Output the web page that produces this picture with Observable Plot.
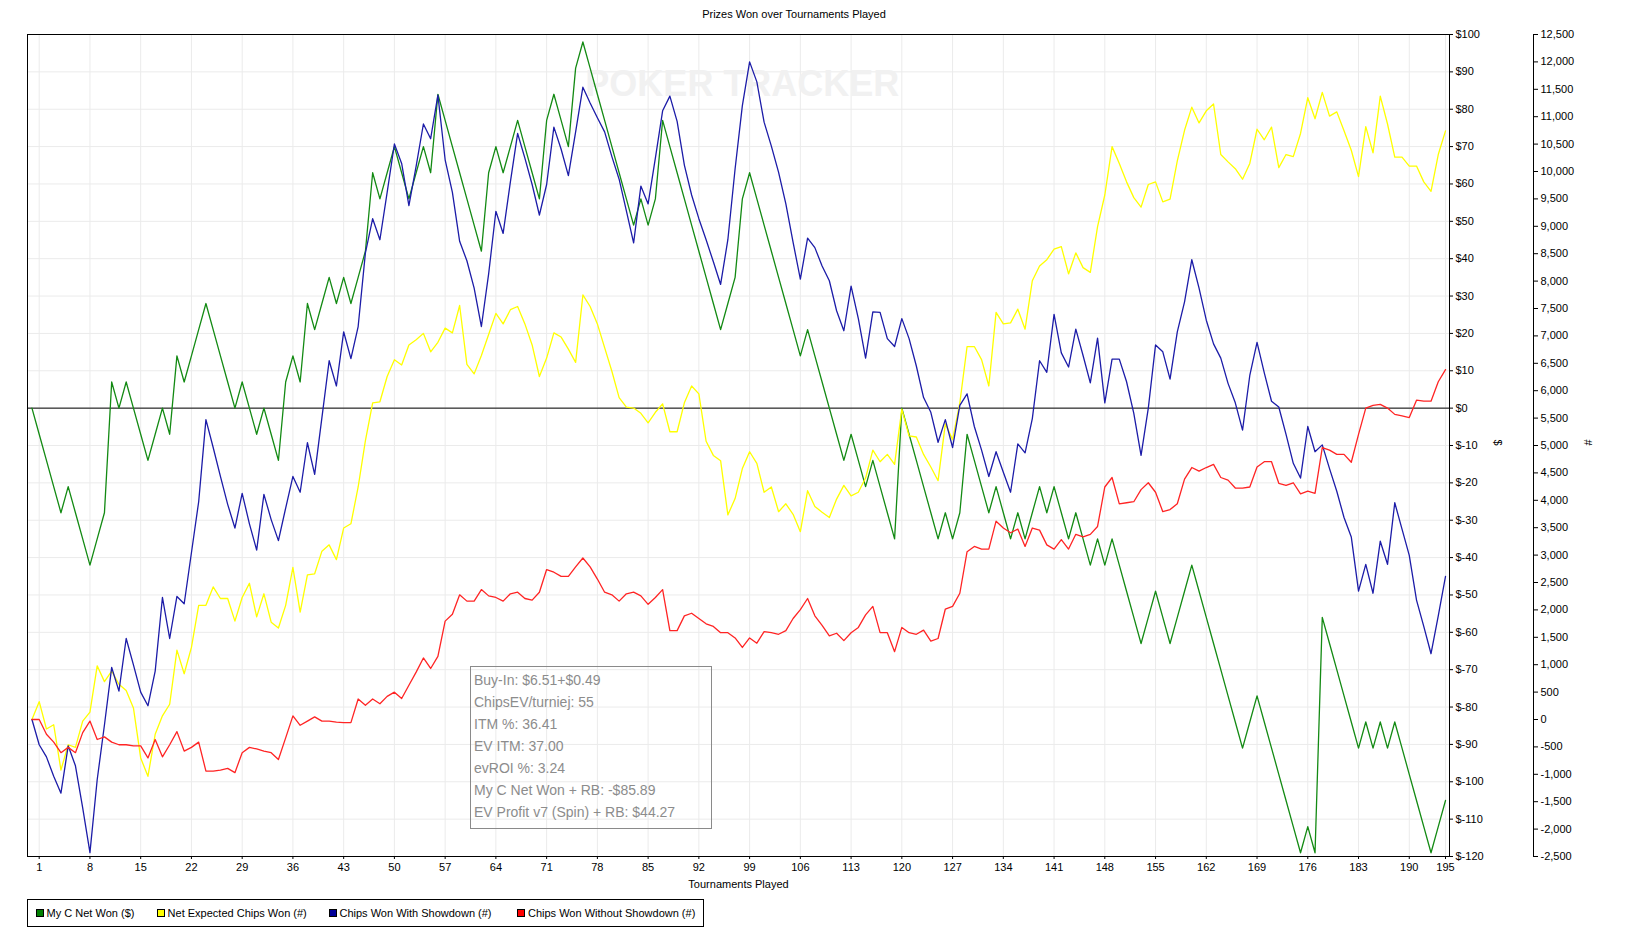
<!DOCTYPE html>
<html>
<head>
<meta charset="utf-8">
<script src="https://cdn.jsdelivr.net/npm/d3@7"></script>
<script src="https://cdn.jsdelivr.net/npm/@observablehq/plot@0.6"></script>
<style>
  html, body { margin: 0; padding: 0; background: #fff; }
  body { width: 1637px; height: 949px; position: relative; overflow: hidden; font-family: "Liberation Sans", Arial, sans-serif; }
  #title { position: absolute; left: 594px; width: 400px; top: 7px; line-height: 14px; font-size: 11px; text-align: center; color: #000; }
  #chart { position: absolute; left: 0; top: 0; }
  #info { position: absolute; left: 470px; top: 666px; width: 242px; height: 163px; box-sizing: border-box; border: 1px solid #8a8a8a; padding: 2px 0 0 3px; font-size: 14px; line-height: 22px; color: #8c8c8c; white-space: nowrap; }
  #legend { position: absolute; left: 27px; top: 899px; width: 677px; height: 28px; box-sizing: border-box; border: 1px solid #000; font-size: 11px; }
  .item { position: absolute; top: 0; height: 26px; line-height: 26px; white-space: nowrap; }
  .sw { position: absolute; top: 9px; left: 0; width: 6px; height: 6px; border: 1px solid #000; }
  .lab { position: absolute; left: 11px; top: 0; }
</style>
</head>
<body>
<div id="title"></div>
<div id="chart"></div>
<div id="info"></div>
<div id="legend"></div>
<script>
// ---------- data ----------
const titleText = "Prizes Won over Tournaments Played";
const xLabel = "Tournaments Played";
const seriesNames = ["My C Net Won ($)", "Net Expected Chips Won (#)", "Chips Won With Showdown (#)", "Chips Won Without Showdown (#)"];
const seriesColors = ["#138a13", "#ffff00", "#1c1ca8", "#ff2424"];
const legendSwatch = ["#008000", "#ffff00", "#000099", "#ff0000"];

// My C Net Won, dollars, tournaments 0..195
const netWonUsd = [
  0,-7,-14,-21,-28,-21,-28,-35,-42,-35,
  -28,7,0,7,0,-7,-14,-7,0,-7,
  14,7,14,21,28,21,14,7,0,7,
  0,-7,0,-7,-14,7,14,7,28,21,
  28,35,28,35,28,35,42,63,56,63,
  70,63,56,63,70,63,84,77,70,63,
  56,49,42,63,70,63,70,77,70,63,
  56,77,84,77,70,91,98,91,84,77,
  70,63,56,49,56,49,56,77,70,63,
  56,49,42,35,28,21,28,35,56,63,
  56,49,42,35,28,21,14,21,14,7,
  0,-7,-14,-7,-14,-21,-14,-21,-28,-35,
  0,-7,-14,-21,-28,-35,-28,-35,-28,-7,
  -14,-21,-28,-21,-28,-35,-28,-35,-28,-21,
  -28,-21,-28,-35,-28,-35,-42,-35,-42,-35,
  -42,-49,-56,-63,-56,-49,-56,-63,-56,-49,
  -42,-49,-56,-63,-70,-77,-84,-91,-84,-77,
  -84,-91,-98,-105,-112,-119,-112,-119,-56,-63,
  -70,-77,-84,-91,-84,-91,-84,-91,-84,-91,
  -98,-105,-112,-119,-112,-105
];

// Net Expected Chips Won, chips
const netExpectedChips = [
  0,326,-173,-96,-922,-461,-509,-29,134,979,
  691,883,643,528,211,-701,-1037,-269,67,278,
  1267,835,1315,2083,2083,2419,2208,2208,1795,2227,
  2486,1872,2294,1776,1670,2083,2774,1958,2640,2659,
  3072,3187,2918,3494,3571,4243,5088,5779,5798,6259,
  6566,6470,6835,6931,7046,6710,6883,7142,7056,7555,
  6480,6307,6643,7027,7411,7219,7478,7536,7219,6835,
  6259,6595,7056,6979,6758,6518,7747,7536,7219,6787,
  6355,5875,5702,5683,5587,5414,5606,5760,5251,5251,
  5779,6086,5942,5078,4819,4723,3734,4032,4579,4886,
  4675,4147,4243,3792,3936,3744,3427,4176,3888,3782,
  3686,4022,4272,4080,4147,4406,4915,4704,4838,4656,
  5664,5174,5155,4838,4608,4358,5395,5107,5779,6806,
  6806,6566,6086,7430,7219,7238,7488,7123,8006,8275,
  8390,8582,8630,8131,8515,8246,8160,8995,9571,10454,
  10147,9811,9523,9350,9763,9811,9446,9494,10195,10752,
  11174,10886,11107,11232,10310,10176,10051,9859,10147,10771,
  10579,10810,10070,10310,10272,10694,11347,10963,11443,11011,
  11088,10742,10387,9907,10819,10339,11376,10867,10262,10262,
  10099,10099,9811,9638,10310,10742
];

// Chips Won With Showdown, chips
const chipsShowdown = [
  0,-461,-682,-1037,-1344,-480,-845,-1613,-2429,-1100,
  -100,950,518,1478,998,499,250,883,2227,1478,
  2246,2112,3043,3974,5472,4963,4435,3926,3494,4128,
  3571,3091,4109,3648,3264,3859,4435,4147,5050,4474,
  5510,6547,6086,7075,6586,7171,8515,9139,8755,9619,
  10502,10147,9379,10099,10867,10598,11395,10214,9619,8726,
  8371,7872,7171,8131,9274,8870,9811,10694,10243,9763,
  9206,9763,10810,10406,9926,10723,11539,11251,10982,10723,
  10272,9859,9283,8698,9734,9408,10243,11107,11376,10915,
  10118,9571,9139,8755,8352,7939,8755,10051,11203,12000,
  11635,10900,10464,9984,9408,8707,8035,8784,8611,8275,
  8006,7459,7094,7910,7315,6595,7440,7430,6950,6806,
  7315,6950,6451,5875,5606,5059,5472,4963,5731,5942,
  5347,4915,4435,4886,4512,4147,5030,4867,5491,6547,
  6336,7392,6691,6432,7123,6643,6144,6960,5779,6576,
  6576,6163,5587,4819,5683,6835,6710,6211,7075,7622,
  8390,7872,7286,6854,6595,6134,5779,5280,6278,6883,
  6326,5808,5702,5203,4675,4406,5347,4886,5011,4579,
  4166,3686,3331,2342,2832,2304,3254,2832,3955,3475,
  2995,2179,1699,1200,1891,2611
];

// Chips Won Without Showdown, chips
const chipsNoShowdown = [
  0,0,-269,-413,-605,-509,-605,-240,-29,-365,
  -317,-413,-461,-461,-480,-480,-701,-365,-682,-461,
  -221,-576,-509,-413,-941,-941,-922,-893,-970,-605,
  -509,-538,-576,-605,-730,-336,67,-106,-29,48,
  -29,-29,-48,-58,-58,374,259,374,288,422,
  499,384,624,864,1123,931,1152,1795,1920,2275,
  2160,2160,2371,2256,2227,2160,2294,2323,2208,2179,
  2323,2736,2688,2611,2611,2784,2947,2784,2563,2323,
  2275,2160,2294,2323,2256,2102,2227,2371,1622,1622,
  1891,1939,1843,1747,1699,1584,1584,1488,1315,1488,
  1392,1603,1584,1555,1622,1843,2006,2208,1891,1718,
  1526,1574,1440,1584,1680,1910,2064,1584,1584,1238,
  1680,1584,1555,1632,1430,1478,2016,2064,2304,3062,
  3158,3110,3110,3619,3494,3408,3475,3158,3494,3456,
  3187,3110,3283,3110,3379,3331,3379,3523,4243,4416,
  3936,3955,3974,4195,4320,4147,3792,3830,3936,4387,
  4598,4531,4598,4656,4416,4368,4224,4224,4243,4608,
  4704,4704,4310,4272,4320,4118,4166,4128,4963,4915,
  4838,4838,4694,5203,5683,5731,5750,5683,5568,5539,
  5510,5827,5808,5808,6163,6384
];

const xTicks = [1,8,15,22,29,36,43,50,57,64,71,78,85,92,99,106,113,120,127,134,141,148,155,162,169,176,183,190,195];
const usdTicks = [-120,-110,-100,-90,-80,-70,-60,-50,-40,-30,-20,-10,0,10,20,30,40,50,60,70,80,90,100];
const chipTicks = [-2500,-2000,-1500,-1000,-500,0,500,1000,1500,2000,2500,3000,3500,4000,4500,5000,5500,6000,6500,7000,7500,8000,8500,9000,9500,10000,10500,11000,11500,12000,12500];
const usdDomain = [-120, 100];
const chipDomain = [-2500, 12500];

const infoLines = [
  "Buy-In: $6.51+$0.49",
  "ChipsEV/turniej: 55",
  "ITM %: 36.41",
  "EV ITM: 37.00",
  "evROI %: 3.24",
  "My C Net Won + RB: -$85.89",
  "EV Profit v7 (Spin) + RB: $44.27"
];
const watermark = "POKER TRACKER";

// ---------- build ----------
// map chips onto the dollar axis (dual axis)
const chipToUsd = c => usdDomain[0] + (c - chipDomain[0]) / (chipDomain[1] - chipDomain[0]) * (usdDomain[1] - usdDomain[0]);
const usdToChip = u => chipDomain[0] + (u - usdDomain[0]) / (usdDomain[1] - usdDomain[0]) * (chipDomain[1] - chipDomain[0]);
const fmtChip = c => { c = Math.round(c / 500) * 500; return (c < 0 ? "-" : "") + d3.format(",")(Math.abs(c)); };

const rows = [];
netWonUsd.forEach((v, i) => rows.push({t: i, v, s: seriesNames[0]}));
netExpectedChips.forEach((v, i) => rows.push({t: i, v: chipToUsd(v), s: seriesNames[1]}));
chipsShowdown.forEach((v, i) => rows.push({t: i, v: chipToUsd(v), s: seriesNames[2]}));
chipsNoShowdown.forEach((v, i) => rows.push({t: i, v: chipToUsd(v), s: seriesNames[3]}));

const chart = Plot.plot({
  width: 1637,
  height: 895,
  marginLeft: 27,
  marginRight: 188,
  marginTop: 34,
  marginBottom: 39,
  style: {fontFamily: "'Liberation Sans', Arial, sans-serif", fontSize: "11px", color: "#000", background: "transparent", overflow: "visible"},
  x: {domain: [-0.614, 195.55]},
  y: {domain: usdDomain},
  color: {domain: seriesNames, range: seriesColors},
  marks: [
    Plot.gridX(xTicks, {stroke: "#ebebeb", strokeOpacity: 1}),
    Plot.gridY(usdTicks, {stroke: "#ebebeb", strokeOpacity: 1}),
    Plot.text([watermark], {x: 98, y: 86.6, text: d => d, fontSize: 36, fontWeight: "bold", fill: "#f1f1f1"}),
    Plot.ruleY([0], {stroke: "#000", strokeWidth: 1}),
    Plot.line(rows, {x: "t", y: "v", z: "s", stroke: "s", strokeWidth: 1.3}),
    Plot.frame({stroke: "#000", strokeWidth: 1}),
    Plot.axisX(xTicks, {tickSize: 3, tickPadding: 4, fontSize: 11, label: null, tickFormat: d => String(d)}),
    Plot.axisY(usdTicks, {anchor: "right", tickSize: 3, tickPadding: 3, fontSize: 11, label: null, tickFormat: d => "$" + d}),
    Plot.axisY(chipTicks.map(chipToUsd), {anchor: "right", dx: 84, tickSize: 4, tickPadding: 3, fontSize: 11, label: null, tickFormat: d => fmtChip(usdToChip(d))}),
    Plot.frame({anchor: "right", dx: 84, stroke: "#000"}),
    Plot.text(["$"], {frameAnchor: "right", dx: 48, rotate: 90, fontSize: 11, text: d => d}),
    Plot.text(["#"], {frameAnchor: "right", dx: 138, rotate: 90, fontSize: 11, text: d => d}),
    Plot.text([xLabel], {frameAnchor: "bottom", dy: 31, fontSize: 11, text: d => d})
  ]
});
document.getElementById("chart").appendChild(chart);

document.getElementById("title").textContent = titleText;

const info = document.getElementById("info");
infoLines.forEach(l => { const d = document.createElement("div"); d.textContent = l; info.appendChild(d); });

const legendLeft = [7.6, 128.6, 300.5, 489];
const legend = document.getElementById("legend");
seriesNames.forEach((n, i) => {
  const it = document.createElement("div");
  it.className = "item";
  it.style.left = legendLeft[i] + "px";
  const sw = document.createElement("span");
  sw.className = "sw";
  sw.style.background = legendSwatch[i];
  const lb = document.createElement("span");
  lb.className = "lab";
  lb.textContent = n;
  it.appendChild(sw); it.appendChild(lb);
  legend.appendChild(it);
});
</script>
</body>
</html>
